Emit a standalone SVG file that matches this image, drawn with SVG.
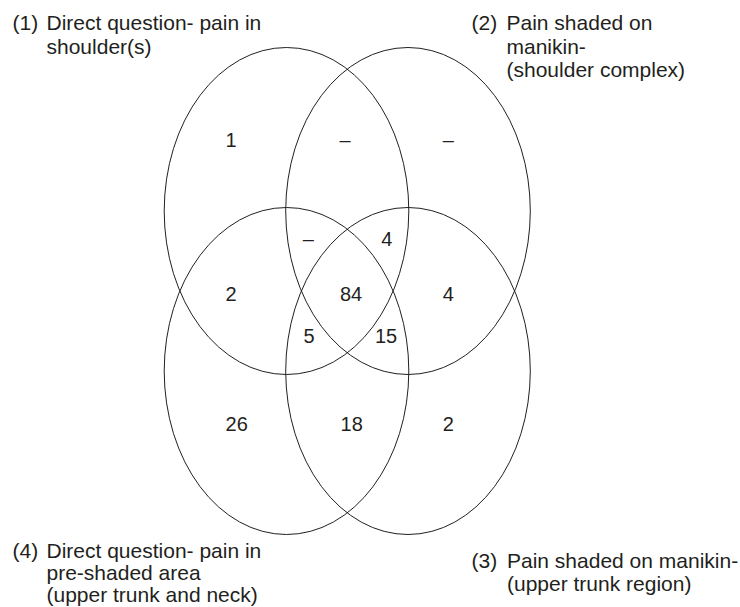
<svg xmlns="http://www.w3.org/2000/svg" width="740" height="607" viewBox="0 0 740 607">
<style>
.lbl{font-family:"Liberation Sans",Arial,sans-serif;font-size:21px;fill:#231f20}
.num{font-family:"Liberation Sans",Arial,sans-serif;font-size:20px;fill:#231f20;text-anchor:middle}
.set{fill:none;stroke:#231f20;stroke-width:1}
</style>
<rect width="740" height="607" fill="#fff"/>
<g id="set1">
<ellipse class="set" cx="286.5" cy="211" rx="122.3" ry="163.5"/>
<text class="lbl" x="12.5" y="30">(1)</text>
<text class="lbl" x="46.5" y="30">Direct question- pain in</text>
<text class="lbl" x="46.5" y="53.5">shoulder(s)</text>
</g>
<g id="set2">
<ellipse class="set" cx="408" cy="211" rx="122.3" ry="163.5"/>
<text class="lbl" x="471.5" y="30">(2)</text>
<text class="lbl" x="506.5" y="30">Pain shaded on</text>
<text class="lbl" x="506.5" y="53.5">manikin-</text>
<text class="lbl" x="506.5" y="77">(shoulder complex)</text>
</g>
<g id="set4">
<ellipse class="set" cx="286.5" cy="371" rx="122.3" ry="163.5"/>
<text class="lbl" x="12.5" y="558">(4)</text>
<text class="lbl" x="46.5" y="558">Direct question- pain in</text>
<text class="lbl" x="46.5" y="580">pre-shaded area</text>
<text class="lbl" x="46.5" y="601.5">(upper trunk and neck)</text>
</g>
<g id="set3">
<ellipse class="set" cx="408" cy="371" rx="122.3" ry="163.5"/>
<text class="lbl" x="471.5" y="568">(3)</text>
<text class="lbl" x="507" y="568">Pain shaded on manikin-</text>
<text class="lbl" x="507" y="590.5">(upper trunk region)</text>
</g>
<g id="counts">
<text class="num" x="231" y="147">1</text>
<text class="num" x="345" y="147">–</text>
<text class="num" x="448.3" y="147">–</text>
<text class="num" x="308.3" y="245.5">–</text>
<text class="num" x="386.7" y="245.5">4</text>
<text class="num" x="231" y="300.5">2</text>
<text class="num" x="351" y="300.5">84</text>
<text class="num" x="448.3" y="300.5">4</text>
<text class="num" x="309" y="343">5</text>
<text class="num" x="386" y="343">15</text>
<text class="num" x="236.7" y="430.5">26</text>
<text class="num" x="351.7" y="430.5">18</text>
<text class="num" x="448.3" y="430.5">2</text>
</g>
<g id="connectors"></g>
</svg>
